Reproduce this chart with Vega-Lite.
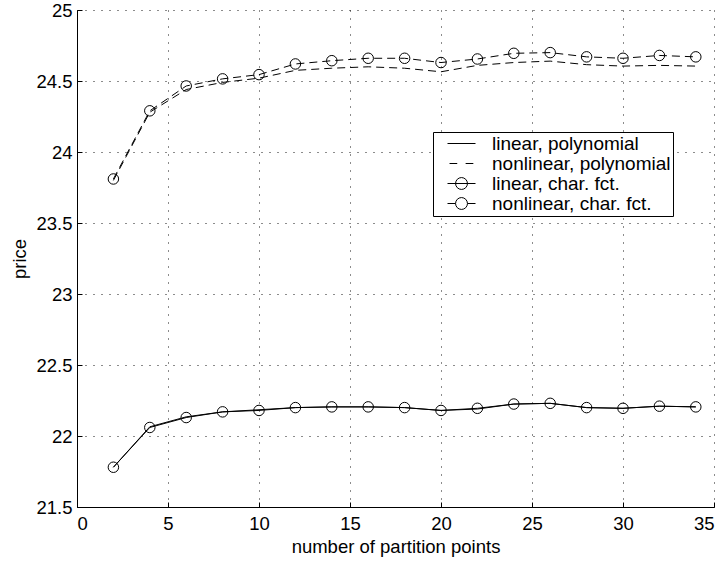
{
  "$schema": "https://vega.github.io/schema/vega-lite/v6.json",
  "width": 637,
  "height": 497,
  "autosize": {"type": "none"},
  "padding": {"left": 77, "top": 10, "right": 13, "bottom": 55},
  "background": "white",
  "config": {
    "view": {"stroke": null},
    "font": "Liberation Sans",
    "axis": {
      "domainColor": "black",
      "domainWidth": 1,
      "tickColor": "black",
      "tickSize": -5,
      "labelColor": "black",
      "labelFont": "Liberation Sans",
      "labelFontSize": 18.5,
      "titleFont": "Liberation Sans",
      "titleFontSize": 18.5,
      "titleFontWeight": "normal",
      "titleColor": "black",
      "grid": true,
      "gridColor": "black",
      "gridDash": [1, 7],
      "gridWidth": 1,
      "gridOpacity": 0.9
    }
  },
  "data": {
    "values": [
      {"x": 2, "y": 21.78, "series": "linear, polynomial"},
      {"x": 4, "y": 22.065, "series": "linear, polynomial"},
      {"x": 6, "y": 22.135, "series": "linear, polynomial"},
      {"x": 8, "y": 22.17, "series": "linear, polynomial"},
      {"x": 10, "y": 22.185, "series": "linear, polynomial"},
      {"x": 12, "y": 22.2, "series": "linear, polynomial"},
      {"x": 14, "y": 22.205, "series": "linear, polynomial"},
      {"x": 16, "y": 22.205, "series": "linear, polynomial"},
      {"x": 18, "y": 22.2, "series": "linear, polynomial"},
      {"x": 20, "y": 22.18, "series": "linear, polynomial"},
      {"x": 22, "y": 22.19, "series": "linear, polynomial"},
      {"x": 24, "y": 22.225, "series": "linear, polynomial"},
      {"x": 26, "y": 22.23, "series": "linear, polynomial"},
      {"x": 28, "y": 22.2, "series": "linear, polynomial"},
      {"x": 30, "y": 22.195, "series": "linear, polynomial"},
      {"x": 32, "y": 22.21, "series": "linear, polynomial"},
      {"x": 34, "y": 22.205, "series": "linear, polynomial"},
      {"x": 2, "y": 23.8, "series": "nonlinear, polynomial"},
      {"x": 4, "y": 24.28, "series": "nonlinear, polynomial"},
      {"x": 6, "y": 24.44, "series": "nonlinear, polynomial"},
      {"x": 8, "y": 24.49, "series": "nonlinear, polynomial"},
      {"x": 10, "y": 24.52, "series": "nonlinear, polynomial"},
      {"x": 12, "y": 24.575, "series": "nonlinear, polynomial"},
      {"x": 14, "y": 24.59, "series": "nonlinear, polynomial"},
      {"x": 16, "y": 24.6, "series": "nonlinear, polynomial"},
      {"x": 18, "y": 24.59, "series": "nonlinear, polynomial"},
      {"x": 20, "y": 24.565, "series": "nonlinear, polynomial"},
      {"x": 22, "y": 24.61, "series": "nonlinear, polynomial"},
      {"x": 24, "y": 24.63, "series": "nonlinear, polynomial"},
      {"x": 26, "y": 24.64, "series": "nonlinear, polynomial"},
      {"x": 28, "y": 24.615, "series": "nonlinear, polynomial"},
      {"x": 30, "y": 24.605, "series": "nonlinear, polynomial"},
      {"x": 32, "y": 24.61, "series": "nonlinear, polynomial"},
      {"x": 34, "y": 24.605, "series": "nonlinear, polynomial"},
      {"x": 2, "y": 21.78, "series": "linear, char. fct."},
      {"x": 4, "y": 22.06, "series": "linear, char. fct."},
      {"x": 6, "y": 22.13, "series": "linear, char. fct."},
      {"x": 8, "y": 22.17, "series": "linear, char. fct."},
      {"x": 10, "y": 22.18, "series": "linear, char. fct."},
      {"x": 12, "y": 22.2, "series": "linear, char. fct."},
      {"x": 14, "y": 22.205, "series": "linear, char. fct."},
      {"x": 16, "y": 22.205, "series": "linear, char. fct."},
      {"x": 18, "y": 22.2, "series": "linear, char. fct."},
      {"x": 20, "y": 22.18, "series": "linear, char. fct."},
      {"x": 22, "y": 22.195, "series": "linear, char. fct."},
      {"x": 24, "y": 22.225, "series": "linear, char. fct."},
      {"x": 26, "y": 22.23, "series": "linear, char. fct."},
      {"x": 28, "y": 22.2, "series": "linear, char. fct."},
      {"x": 30, "y": 22.195, "series": "linear, char. fct."},
      {"x": 32, "y": 22.21, "series": "linear, char. fct."},
      {"x": 34, "y": 22.205, "series": "linear, char. fct."},
      {"x": 2, "y": 23.81, "series": "nonlinear, char. fct."},
      {"x": 4, "y": 24.29, "series": "nonlinear, char. fct."},
      {"x": 6, "y": 24.465, "series": "nonlinear, char. fct."},
      {"x": 8, "y": 24.515, "series": "nonlinear, char. fct."},
      {"x": 10, "y": 24.545, "series": "nonlinear, char. fct."},
      {"x": 12, "y": 24.62, "series": "nonlinear, char. fct."},
      {"x": 14, "y": 24.643, "series": "nonlinear, char. fct."},
      {"x": 16, "y": 24.66, "series": "nonlinear, char. fct."},
      {"x": 18, "y": 24.66, "series": "nonlinear, char. fct."},
      {"x": 20, "y": 24.63, "series": "nonlinear, char. fct."},
      {"x": 22, "y": 24.655, "series": "nonlinear, char. fct."},
      {"x": 24, "y": 24.695, "series": "nonlinear, char. fct."},
      {"x": 26, "y": 24.7, "series": "nonlinear, char. fct."},
      {"x": 28, "y": 24.67, "series": "nonlinear, char. fct."},
      {"x": 30, "y": 24.66, "series": "nonlinear, char. fct."},
      {"x": 32, "y": 24.68, "series": "nonlinear, char. fct."},
      {"x": 34, "y": 24.67, "series": "nonlinear, char. fct."}
    ]
  },
  "encoding": {
    "x": {
      "field": "x", "type": "quantitative",
      "scale": {"domain": [0, 35], "nice": false, "zero": false},
      "axis": {"values": [0, 5, 10, 15, 20, 25, 30, 35], "title": "number of partition points", "labelPadding": 12, "titlePadding": 5}
    },
    "y": {
      "field": "y", "type": "quantitative",
      "scale": {"domain": [21.5, 25], "nice": false, "zero": false},
      "axis": {"values": [21.5, 22, 22.5, 23, 23.5, 24, 24.5, 25], "format": "~g", "title": "price", "labelPadding": 10, "titlePadding": 6}
    }
  },
  "layer": [
    {
      "transform": [{"filter": "indexof(datum.series, 'nonlinear') < 0"}],
      "mark": {"type": "line", "color": "black", "strokeWidth": 1},
      "encoding": {"detail": {"field": "series", "type": "nominal"}}
    },
    {
      "transform": [{"filter": "indexof(datum.series, 'nonlinear') >= 0"}],
      "mark": {"type": "line", "color": "black", "strokeWidth": 1, "strokeDash": [8, 5]},
      "encoding": {"detail": {"field": "series", "type": "nominal"}}
    },
    {
      "transform": [{"filter": "indexof(datum.series, 'char') >= 0"}],
      "mark": {"type": "point", "shape": "circle", "filled": false, "color": "black", "strokeWidth": 1, "size": 110, "opacity": 1},
      "encoding": {"detail": {"field": "series", "type": "nominal"}}
    },
    {
      "mark": {"type": "point", "filled": false, "color": "black", "opacity": 0},
      "encoding": {
        "shape": {
          "field": "series", "type": "nominal",
          "scale": {
            "domain": ["linear, polynomial", "nonlinear, polynomial", "linear, char. fct.", "nonlinear, char. fct."],
            "range": [
              "M0.43,0L4.43,0",
              "M0.72,0L1.82,0M3.02,0L4.12,0",
              "M0.43,0L4.43,0M3.28,0A0.85,0.85 0 1 1 1.58,0A0.85,0.85 0 1 1 3.28,0",
              "M0.43,0L1.58,0M3.28,0L4.43,0M3.28,0A0.85,0.85 0 1 1 1.58,0A0.85,0.85 0 1 1 3.28,0"
            ]
          },
          "legend": {
            "title": null,
            "orient": "none",
            "legendX": 356,
            "legendY": 122,
            "strokeColor": "black",
            "fillColor": "white",
            "padding": 2,
            "symbolSize": 196,
            "symbolOpacity": 1,
            "symbolStrokeColor": "black",
            "symbolFillColor": "transparent",
            "symbolStrokeWidth": 1,
            "labelOffset": 38,
            "labelLimit": 400,
            "labelFont": "Liberation Sans",
            "labelFontSize": 19,
            "labelColor": "black",
            "rowPadding": 0
          }
        }
      }
    }
  ]
}
